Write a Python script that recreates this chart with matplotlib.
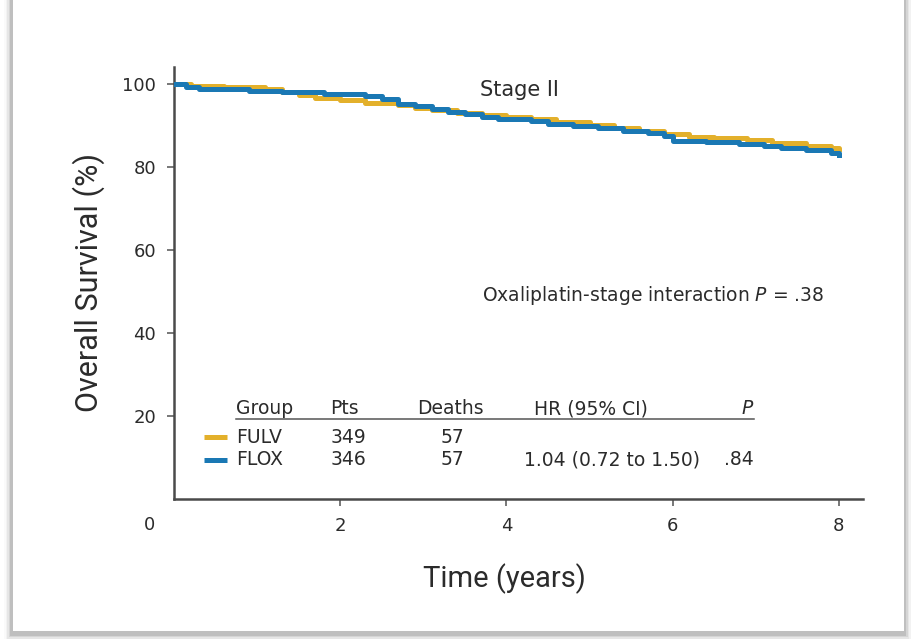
"""Kaplan-Meier overall survival, stage II: FULV vs FLOX."""
import matplotlib
matplotlib.use("Agg")
import matplotlib.pyplot as plt
from matplotlib.patches import Rectangle

# ----------------------------------------------------------------
# Data
# ----------------------------------------------------------------
fulv_t = [0, 0.2, 0.6, 1.1, 1.3, 1.5, 1.7, 2.0, 2.3, 2.7, 2.9, 3.1, 3.4, 3.7,
          4.0, 4.3, 4.6, 5.0, 5.3, 5.6, 5.9, 6.2, 6.5, 6.9, 7.2, 7.6, 7.9, 8.0]
fulv_s = [100, 99.5, 99.2, 98.8, 98.0, 97.2, 96.5, 96.0, 95.4, 94.8, 94.2, 93.6,
          93.0, 92.5, 92.0, 91.4, 90.7, 90.0, 89.3, 88.6, 87.8, 87.2, 86.8,
          86.4, 85.8, 85.0, 84.5, 84.2]

flox_t = [0, 0.15, 0.3, 0.9, 1.3, 1.8, 2.3, 2.5, 2.7, 2.9, 3.1, 3.3, 3.5, 3.7,
          3.9, 4.3, 4.5, 4.8, 5.1, 5.4, 5.7, 5.9, 6.0, 6.4, 6.8, 7.1, 7.3, 7.6,
          7.9, 8.0]
flox_s = [100, 99.3, 98.8, 98.3, 97.9, 97.5, 97.0, 96.3, 95.2, 94.5, 93.8, 93.2,
          92.6, 91.9, 91.4, 91.0, 90.3, 89.8, 89.3, 88.6, 88.0, 87.4, 86.3,
          85.9, 85.5, 85.1, 84.5, 83.9, 83.3, 82.8]

groups = ["FULV", "FLOX"]
pts = ["349", "346"]
deaths = ["57", "57"]
hr = ["", "1.04 (0.72 to 1.50)"]
pvals = ["", ".84"]

x_ticks = [2, 4, 6, 8]
y_ticks = [20, 40, 60, 80, 100]

YELLOW = "#e3b02b"
BLUE = "#1a78b4"
INK = "#2b2b2b"

plt.rcParams["font.family"] = ["DejaVu Sans"]
LABEL_FONT = ["Roboto", "DejaVu Sans"]

# ----------------------------------------------------------------
# Figure + card background
# ----------------------------------------------------------------
W, H = 912, 639
fig = plt.figure(figsize=(W / 100, H / 100), dpi=100)
fig.patch.set_facecolor("white")

# soft drop shadow under the card
for i, a in enumerate([0.03, 0.05, 0.08, 0.12, 0.18]):
    grow = (5 - i) * 1.5
    fig.add_artist(Rectangle(((12 - grow) / W, (H - 634 - grow) / H),
                             (893 + 2 * grow) / W, (634 + 40) / H,
                             transform=fig.transFigure, facecolor="#606060",
                             edgecolor="none", alpha=a, zorder=0))
fig.add_artist(Rectangle((13 / W, (H - 631) / H), 891 / W, 1.2,
                         transform=fig.transFigure, facecolor="white",
                         edgecolor="none", zorder=0.5))

# ----------------------------------------------------------------
# Axes
# ----------------------------------------------------------------
ax = fig.add_axes([174 / W, 1 - 499 / H, (863 - 174) / W, (499 - 67) / H])
ax.set_zorder(2)
ax.set_facecolor("none")
ax.set_xlim(0, 8.29)
ax.set_ylim(0, 104)

ax.step(fulv_t, fulv_s, where="post", color=YELLOW, lw=3.6, zorder=3)
ax.step(flox_t, flox_s, where="post", color=BLUE, lw=3.6, zorder=4)

for side in ["top", "right"]:
    ax.spines[side].set_visible(False)
for side in ["left", "bottom"]:
    ax.spines[side].set_linewidth(1.8)
    ax.spines[side].set_color("#4a4a4a")

ax.set_xticks(x_ticks)
ax.set_yticks(y_ticks)
ax.tick_params(direction="out", length=5, width=1.4, color="#777777",
               labelsize=13, labelcolor=INK, pad=8)
ax.annotate("0", xy=(-0.3, 0), xycoords="data", xytext=(0, -19),
            textcoords="offset points", ha="center", va="center",
            fontsize=13, color=INK, annotation_clip=False)

ax.set_xlabel("Time (years)", fontsize=21, family=LABEL_FONT, color=INK)
ax.set_ylabel("Overall Survival (%)", fontsize=22, family=LABEL_FONT, color=INK)
ax.yaxis.set_label_coords(-0.1, 0.5)
ax.xaxis.set_label_coords(0.48, -0.15)

# ----------------------------------------------------------------
# Annotations
# ----------------------------------------------------------------
ax.text(4.16, 98.4, "Stage II", ha="center", va="center", fontsize=15, color=INK)
ax.text(3.71, 49.1, "Oxaliplatin-stage interaction $\\it{P}$ = .38",
        ha="left", va="center", fontsize=13.5, color=INK)

# summary table
fs = 13.5
y_head, y_rows = 21.7, [14.9, 9.4]
ax.text(0.75, y_head, "Group", ha="left", va="center", fontsize=fs, color=INK)
ax.text(1.88, y_head, "Pts", ha="left", va="center", fontsize=fs, color=INK)
ax.text(2.92, y_head, "Deaths", ha="left", va="center", fontsize=fs, color=INK)
ax.text(5.02, y_head, "HR (95% CI)", ha="center", va="center", fontsize=fs, color=INK)
ax.text(6.96, y_head, "P", ha="right", va="center", fontsize=fs, color=INK,
        style="italic")
ax.plot([0.75, 6.98], [19.2, 19.2], color="#555555", lw=1.1)

for y, g, p, d, h, pv, col in zip(y_rows, groups, pts, deaths, hr, pvals,
                                  [YELLOW, BLUE]):
    ax.plot([0.36, 0.64], [y, y], color=col, lw=3.6, solid_capstyle="butt")
    ax.text(0.75, y, g, ha="left", va="center", fontsize=fs, color=INK)
    ax.text(1.88, y, p, ha="left", va="center", fontsize=fs, color=INK)
    ax.text(3.49, y, d, ha="right", va="center", fontsize=fs, color=INK)
    ax.text(6.33, y, h, ha="right", va="center", fontsize=fs, color=INK)
    ax.text(6.98, y, pv, ha="right", va="center", fontsize=fs, color=INK)

fig.savefig("out.png", dpi=100)
plt.close(fig)
